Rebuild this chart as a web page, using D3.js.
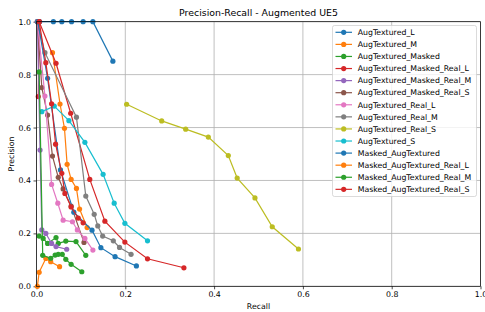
<!DOCTYPE html>
<html lang="en">
<head>
    <meta charset="UTF-8">
    <title>Precision-Recall - Augmented UE5</title>
    <style>
        body { margin: 0; background: #fff; }
        svg { display: block; font-family: "DejaVu Sans", sans-serif; }
        .grid line { stroke: #b0b0b0; stroke-width: 0.8; }
        .tick text { fill: #000; }
    </style>
</head>
<body>
    <div id="chart"></div>
    <script src="https://d3js.org/d3.v7.min.js"></script>
    <script>
        // Series names in legend order
        const seriesNames = [
            "AugTextured_L", "AugTextured_M", "AugTextured_Masked",
            "AugTextured_Masked_Real_L", "AugTextured_Masked_Real_M", "AugTextured_Masked_Real_S",
            "AugTextured_Real_L", "AugTextured_Real_M", "AugTextured_Real_S", "AugTextured_S",
            "Masked_AugTextured", "Masked_AugTextured_Real_L", "Masked_AugTextured_Real_M",
            "Masked_AugTextured_Real_S"
        ];

        // [recall, precision] pairs
        const augTexturedL = [[0.007, 1.0], [0.038, 1.0], [0.057, 1.0], [0.079, 1.0], [0.105, 1.0], [0.127, 1.0], [0.172, 0.851]];
        const augTexturedM = [[0.036, 0.883], [0.053, 0.689], [0.063, 0.597], [0.069, 0.461], [0.078, 0.404], [0.090, 0.370], [0.097, 0.292], [0.114, 0.222]];
        const augTexturedMasked = [[0.006, 0.19], [0.015, 0.181], [0.025, 0.162], [0.044, 0.184], [0.049, 0.162], [0.066, 0.171], [0.089, 0.169], [0.111, 0.117]];
        const augTexturedMaskedRealL = [[0.004, 0.717], [0.006, 1.0], [0.044, 0.843], [0.077, 0.654], [0.120, 0.404], [0.154, 0.246], [0.199, 0.167], [0.250, 0.104], [0.332, 0.070]];
        const augTexturedMaskedRealM = [[0.002, 1.0], [0.008, 0.515], [0.012, 0.213], [0.021, 0.200], [0.034, 0.162], [0.044, 0.150], [0.068, 0.140]];
        const augTexturedMaskedRealS = [[0.002, 1.0], [0.012, 0.751], [0.025, 0.647], [0.036, 0.492], [0.049, 0.412], [0.060, 0.368], [0.078, 0.303], [0.107, 0.166]];
        const augTexturedRealL = [[0.002, 1.0], [0.019, 0.719], [0.034, 0.385], [0.048, 0.314], [0.060, 0.250], [0.081, 0.244], [0.092, 0.213], [0.109, 0.181], [0.127, 0.137]];
        const augTexturedRealM = [[0.002, 1.0], [0.019, 0.883], [0.090, 0.639], [0.111, 0.341], [0.130, 0.272], [0.138, 0.228], [0.149, 0.190], [0.173, 0.172], [0.187, 0.147], [0.213, 0.121]];
        const augTexturedRealS = [[0.203, 0.688], [0.282, 0.625], [0.336, 0.594], [0.387, 0.564], [0.432, 0.494], [0.452, 0.409], [0.492, 0.334], [0.531, 0.225], [0.590, 0.141]];
        const augTexturedS = [[0.012, 0.660], [0.040, 0.681], [0.073, 0.626], [0.109, 0.544], [0.150, 0.423], [0.175, 0.314], [0.199, 0.238], [0.250, 0.172]];
        const maskedAugTextured = [[0.003, 1.0], [0.025, 0.786], [0.054, 0.440], [0.084, 0.280], [0.125, 0.212], [0.145, 0.146], [0.177, 0.112], [0.225, 0.077]];
        const maskedAugTexturedRealL = [[0.002, 0.0], [0.006, 0.053], [0.021, 0.105], [0.032, 0.093], [0.052, 0.074]];
        const maskedAugTexturedRealM = [[0.006, 0.81], [0.014, 0.117], [0.032, 0.106], [0.042, 0.118], [0.049, 0.121], [0.058, 0.121], [0.066, 0.102], [0.078, 0.083], [0.102, 0.055]];
        const maskedAugTexturedRealS = [[0.006, 1.0], [0.021, 0.845], [0.034, 0.690], [0.043, 0.537], [0.057, 0.427], [0.064, 0.351], [0.078, 0.300], [0.094, 0.258], [0.105, 0.240]];

        const seriesValues = [
            augTexturedL, augTexturedM, augTexturedMasked, augTexturedMaskedRealL,
            augTexturedMaskedRealM, augTexturedMaskedRealS, augTexturedRealL, augTexturedRealM,
            augTexturedRealS, augTexturedS, maskedAugTextured, maskedAugTexturedRealL,
            maskedAugTexturedRealM, maskedAugTexturedRealS
        ];

        const xTicks = [0, 0.2, 0.4, 0.6, 0.8, 1.0];
        const yTicks = [0, 0.2, 0.4, 0.6, 0.8, 1.0];

        const width = 485, height = 312;
        const margin = { top: 21.7, right: 4.5, bottom: 25.7, left: 36.5 };
        const innerW = width - margin.left - margin.right;
        const innerH = height - margin.top - margin.bottom;

        const svg = d3.select("#chart").append("svg")
            .attr("width", width)
            .attr("height", height);

        const g = svg.append("g")
            .attr("transform", `translate(${margin.left},${margin.top})`);

        const x = d3.scaleLinear().domain([0, 1]).range([0, innerW]);
        const y = d3.scaleLinear().domain([0, 1]).range([innerH, 0]);
        const color = d3.scaleOrdinal(d3.schemeCategory10);

        // grid
        g.append("g").attr("class", "grid")
            .selectAll("line").data(xTicks).join("line")
            .attr("x1", d => x(d)).attr("x2", d => x(d))
            .attr("y1", 0).attr("y2", innerH);
        g.append("g").attr("class", "grid")
            .selectAll("line").data(yTicks).join("line")
            .attr("y1", d => y(d)).attr("y2", d => y(d))
            .attr("x1", 0).attr("x2", innerW);

        // axes
        const xAxis = g.append("g")
            .attr("transform", `translate(0,${innerH})`)
            .call(d3.axisBottom(x).tickValues(xTicks).tickFormat(d3.format(".1f")).tickSize(3).tickPadding(2.5));
        const yAxis = g.append("g")
            .call(d3.axisLeft(y).tickValues(yTicks).tickFormat(d3.format(".1f")).tickSize(3).tickPadding(2.5));
        [xAxis, yAxis].forEach(a => {
            a.select(".domain").remove();
            a.selectAll("text").attr("font-size", 7.8).attr("font-family", "DejaVu Sans");
            a.selectAll("line").attr("stroke", "#000").attr("stroke-width", 0.7);
        });

        // lines + markers
        const line = d3.line().x(d => x(d[0])).y(d => y(d[1]));
        seriesValues.forEach((vals, i) => {
            const sg = g.append("g");
            sg.append("path")
                .datum(vals)
                .attr("d", line)
                .attr("fill", "none")
                .attr("stroke", color(i % 10))
                .attr("stroke-width", 1.2);
            sg.selectAll("circle").data(vals).join("circle")
                .attr("cx", d => x(d[0]))
                .attr("cy", d => y(d[1]))
                .attr("r", 2.6)
                .attr("fill", color(i % 10));
        });

        // frame
        g.append("rect")
            .attr("width", innerW).attr("height", innerH)
            .attr("fill", "none").attr("stroke", "#000").attr("stroke-width", 0.7);

        // titles
        svg.append("text")
            .attr("x", margin.left + innerW / 2).attr("y", 15.6)
            .attr("text-anchor", "middle").attr("font-size", 9.4)
            .text("Precision-Recall - Augmented UE5");
        svg.append("text")
            .attr("x", margin.left + innerW / 2).attr("y", 309)
            .attr("text-anchor", "middle").attr("font-size", 7.8)
            .text("Recall");
        svg.append("text")
            .attr("transform", `translate(14,${margin.top + innerH / 2}) rotate(-90)`)
            .attr("text-anchor", "middle").attr("font-size", 7.8)
            .text("Precision");

        // legend
        const legend = svg.append("g").attr("transform", "translate(332.5,25.5)");
        legend.append("rect")
            .attr("width", 144).attr("height", 171).attr("rx", 2)
            .attr("fill", "#fff").attr("fill-opacity", 0.8)
            .attr("stroke", "#cccccc").attr("stroke-width", 0.7);
        const items = legend.selectAll("g.item").data(seriesNames).join("g")
            .attr("class", "item")
            .attr("transform", (d, i) => `translate(0,${6.8 + i * 12.08})`);
        items.append("line")
            .attr("x1", 3).attr("x2", 19.5)
            .attr("stroke", (d, i) => color(i % 10)).attr("stroke-width", 1.2);
        items.append("circle")
            .attr("cx", 11.2).attr("r", 2.6)
            .attr("fill", (d, i) => color(i % 10));
        items.append("text")
            .attr("x", 25.2).attr("dy", "0.35em")
            .attr("font-size", 7.8)
            .text(d => d);
    </script>
</body>
</html>
